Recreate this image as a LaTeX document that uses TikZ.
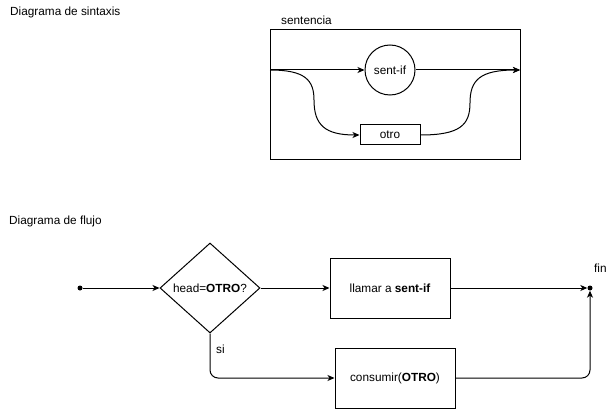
\documentclass[tikz,border=0pt]{standalone}
\usepackage{fontspec}
\setmainfont{Liberation Sans}
\usepackage{tikz}
\usetikzlibrary{shapes.geometric, arrows.meta, positioning}

\begin{document}
\begin{tikzpicture}[x=1pt, y=-1pt, font=\fontsize{11.8}{14}\selectfont,
  box/.style={rectangle, draw, line width=1pt, minimum width=120, minimum height=60, align=center},
  cond/.style={diamond, draw, line width=1pt, inner sep=0pt, minimum width=100, minimum height=90},
  term/.style={circle, draw, line width=1pt, minimum size=50, inner sep=0pt},
  tok/.style={rectangle, draw, line width=1pt, minimum width=60, minimum height=20, inner sep=0pt},
  lbl/.style={anchor=west, inner sep=0pt},
  a/.style={-{Stealth[length=7pt, width=6pt, inset=2pt]}, line width=1pt}]
  \useasboundingbox (0,0) rectangle (616,409);

  % diagrama de sintaxis
  \node[lbl] (tsin) at (10,12) {Diagrama de sintaxis};
  \node[rectangle, draw, line width=1pt, minimum width=250, minimum height=130] (sent) at (395,95) {};
  \node[lbl] (tsent) at (281,20) {sentencia};
  \node[term] (sif) at (390,70) {sent-if};
  \node[tok] (otro) at (390,135) {otro};
  \coordinate (ent) at (270,70);
  \coordinate (sal) at (520,70);
  \draw[a] (ent) -- (sif);
  \draw[a] (sif) -- (sal);
  \draw[a] (ent) .. controls (305,70) and (314,80) .. (314,100)
    .. controls (314,125) and (325,135) .. (otro.west);
  \draw[a] (otro.east) .. controls (460,135) and (470,125) .. (470,103)
    .. controls (470,80) and (480,70) .. (sal);

  % diagrama de flujo
  \node[lbl] (tflu) at (9,221) {Diagrama de flujo};
  \node[circle, fill, inner sep=0pt, minimum size=5] (ini) at (80,288) {};
  \node[cond] (head) at (210,288) {head=\textbf{OTRO}?};
  \node[box] (llam) at (390,288) {llamar a \textbf{sent-if}};
  \node[box] (cons) at (395,378) {consumir(\textbf{OTRO})};
  \node[circle, fill, inner sep=0pt, minimum size=5] (fin) at (590,288) {};
  \node[lbl] (tfin) at (594,268) {fin};
  \node[lbl] (tsi) at (216,349) {si};
  \draw[a] (ini) -- (head);
  \draw[a] (head) -- (llam);
  \draw[a] (llam) -- (fin);
  \draw[a, rounded corners=8pt] (head.south) |- (cons.west);
  \draw[a, rounded corners=8pt] (cons.east) -| (fin);
\end{tikzpicture}
\end{document}
